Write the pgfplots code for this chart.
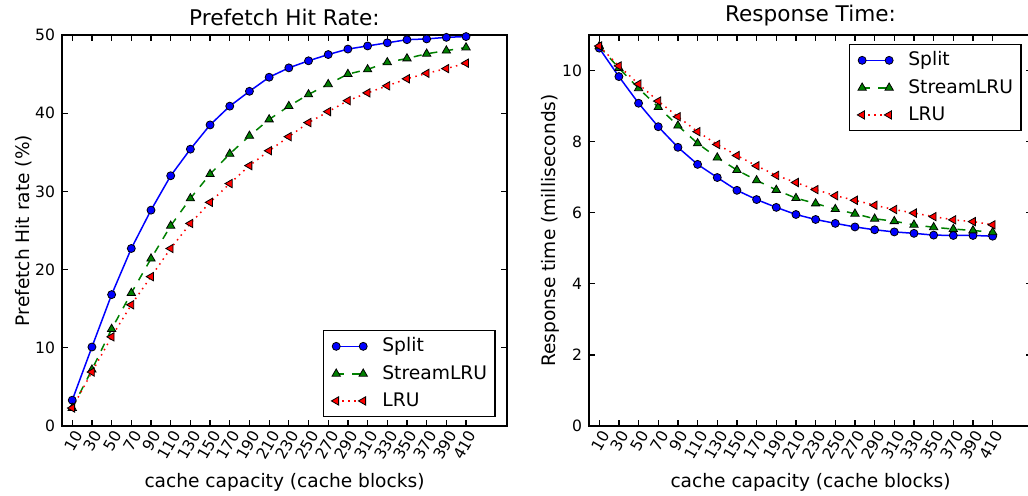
\documentclass[border=0pt]{standalone}
\usepackage{pgfplots}
\pgfplotsset{compat=1.18}
\usepackage{pgfplotstable}
\usepackage{fontspec}
\setmainfont{DejaVu Sans}

% hit rate (%), index 0..20 = capacity 10..410
\pgfplotstableread{
idx split stream lru
0  3.3  2.3  2.3
1  10.1 7.2  6.9
2  16.8 12.4 11.4
3  22.7 17.0 15.5
4  27.6 21.4 19.1
5  32.0 25.6 22.7
6  35.4 29.1 25.9
7  38.5 32.2 28.6
8  40.9 34.8 31.0
9  42.8 37.1 33.3
10 44.6 39.2 35.2
11 45.8 40.9 37.0
12 46.7 42.4 38.8
13 47.5 43.7 40.2
14 48.2 45.0 41.6
15 48.6 45.6 42.6
16 49.0 46.5 43.5
17 49.4 47.0 44.4
18 49.5 47.6 45.1
19 49.7 48.0 45.7
20 49.8 48.4 46.4
}\hitrate

% response time (ms)
\pgfplotstableread{
idx split stream lru
0  10.63 10.68 10.69
1  9.83  10.07 10.13
2  9.08  9.50  9.62
3  8.42  8.97  9.14
4  7.84  8.45  8.70
5  7.36  7.95  8.28
6  6.99  7.55  7.92
7  6.63  7.20  7.61
8  6.37  6.91  7.32
9  6.15  6.64  7.05
10 5.95  6.41  6.85
11 5.81  6.26  6.65
12 5.70  6.10  6.48
13 5.60  5.97  6.35
14 5.52  5.83  6.21
15 5.46  5.76  6.09
16 5.42  5.66  5.99
17 5.37  5.59  5.89
18 5.36  5.54  5.80
19 5.36  5.50  5.75
20 5.34  5.45  5.66
}\resptime

\definecolor{mplgreen}{rgb}{0,0.5,0}

\pgfplotsset{
  mplax/.style={
    scale only axis, height=195.5pt,
    anchor=south west,
    axis line style={line width=0.75pt},
    tick style={black, line width=0.6pt},
    major tick length=3pt,
    tick align=inside,
    xtick={0,...,20},
    xticklabels={10,30,50,70,90,110,130,150,170,190,210,230,250,270,290,310,330,350,370,390,410},
    xticklabel style={rotate=60, anchor=north east, inner sep=1pt},
    tick label style={font=\fontsize{7.8}{9}\selectfont},
    /pgf/number format/assume math mode=true,
    label style={font=\fontsize{9.3}{11}\selectfont},
    xlabel style={yshift=-1.5pt},
    ylabel style={yshift=-5.5pt},
    title style={font=\fontsize{10.8}{13}\selectfont, yshift=-5pt},
    xlabel={cache capacity (cache blocks)},
    clip=false,
    legend cell align=left,
    legend style={draw=black, line width=0.75pt, fill=white,
      font=\fontsize{9.35}{11}\selectfont, row sep=1.2pt, column sep=7.5pt,
      inner xsep=4pt, inner ysep=1.5pt,
      nodes={inner xsep=0pt}},
    legend image code/.code={
      \draw[mark repeat=1,mark phase=1,#1] plot coordinates {(0pt,0pt) (13.5pt,0pt)};
    },
  },
  splitl/.style={blue, line width=0.75pt, mark=*, mark size=2pt,
    mark options={solid, fill=blue, draw=black, line width=0.4pt}},
  streaml/.style={mplgreen, line width=0.75pt, dash pattern=on 4pt off 4pt, mark=triangle*, mark size=2.4pt,
    mark options={solid, fill=mplgreen, draw=black, line width=0.4pt}},
  lrul/.style={red, line width=0.75pt, dash pattern=on 0.75pt off 2.25pt, mark=triangle*, mark size=2.4pt,
    mark options={solid, rotate=90, fill=red, draw=black, line width=0.4pt}},
}

\begin{document}
\begin{tikzpicture}
\useasboundingbox (0,0) rectangle (514pt,248pt);

\begin{axis}[mplax,
  at={(31pt,35pt)}, width=222.5pt,
  xmin=-0.52, xmax=22.08, ymin=0, ymax=50,
  ytick={0,10,20,30,40,50},
  title={Prefetch Hit Rate:},
  ylabel={Prefetch Hit rate (\%)},
  legend style={at={(0.975,0.023)}, anchor=south east},
]
\addplot[splitl] table[x=idx, y=split] {\hitrate};
\addlegendentry{Split}
\addplot[streaml] table[x=idx, y=stream] {\hitrate};
\addlegendentry{StreamLRU}
\addplot[lrul] table[x=idx, y=lru] {\hitrate};
\addlegendentry{LRU}
\end{axis}

\begin{axis}[mplax,
  at={(294.5pt,35pt)}, width=221.5pt,
  xmin=-0.52, xmax=22, ymin=0, ymax=11,
  ytick={0,2,4,6,8,10},
  title={Response Time:},
  ylabel={Response time (milliseconds)},
  legend style={at={(0.977,0.977)}, anchor=north east},
]
\addplot[splitl] table[x=idx, y=split] {\resptime};
\addlegendentry{Split}
\addplot[streaml] table[x=idx, y=stream] {\resptime};
\addlegendentry{StreamLRU}
\addplot[lrul] table[x=idx, y=lru] {\resptime};
\addlegendentry{LRU}
\end{axis}
\end{tikzpicture}
\end{document}
